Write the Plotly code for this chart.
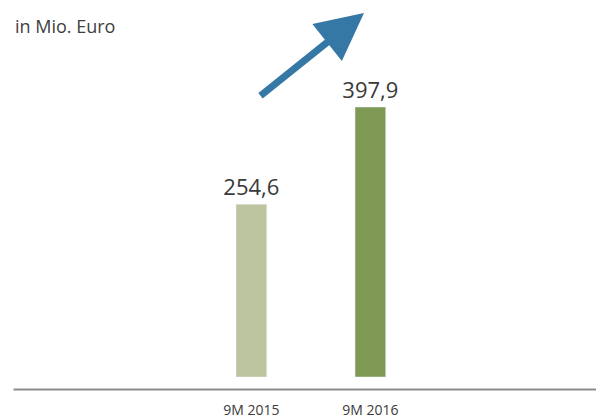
import plotly.graph_objects as go

categories = ["9M 2015", "9M 2016"]
values = [254.6, 397.9]
value_labels = ["254,6", "397,9"]
bar_colors = ["#bdc59f", "#7f9a55"]

W, H = 596, 419
plot_h = 379  # bar baseline in pixels from top

fig = go.Figure(go.Bar(
    x=categories,
    y=values,
    width=0.258,
    marker_color=bar_colors,
    text=value_labels,
    textposition="outside",
    constraintext="none",
    textfont=dict(color="#3a3a3a", size=22, family="Open Sans"),
    cliponaxis=False,
))

fig.update_layout(
    width=W,
    height=H,
    margin=dict(l=0, r=0, t=0, b=H - plot_h),
    paper_bgcolor="white",
    plot_bgcolor="white",
    showlegend=False,
    font=dict(family="Open Sans", color="#3a3a3a"),
    xaxis=dict(
        range=[-2.112, 2.896],
        showgrid=False,
        zeroline=False,
        showline=False,
        ticks="",
        tickfont=dict(size=14, color="#3a3a3a"),
        ticklabelstandoff=23,
    ),
    yaxis=dict(
        range=[0, plot_h / 0.682],
        visible=False,
    ),
)

# baseline below the bars
fig.add_shape(
    type="line", xref="paper", yref="paper",
    x0=13.5 / W, x1=1, y0=-12.5 / plot_h, y1=-12.5 / plot_h,
    line=dict(color="#8c8c8c", width=2),
)

fig.add_annotation(
    text="in Mio. Euro", xref="paper", yref="paper",
    x=13 / W, y=1 - 12 / plot_h, xanchor="left", yanchor="top",
    showarrow=False, font=dict(size=18, color="#404040"),
)

# growth arrow
fig.add_annotation(
    text="", xref="paper", yref="paper",
    x=364 / W, y=1 - 13 / plot_h,
    ax=-105, ay=84, axref="pixel", ayref="pixel",
    showarrow=True, arrowhead=2, arrowwidth=7, arrowsize=1.35,
    arrowcolor="#3578a5", standoff=0,
)

fig.write_html("out.html", config={"displayModeBar": False},
               post_script="document.body.style.margin='0';")
